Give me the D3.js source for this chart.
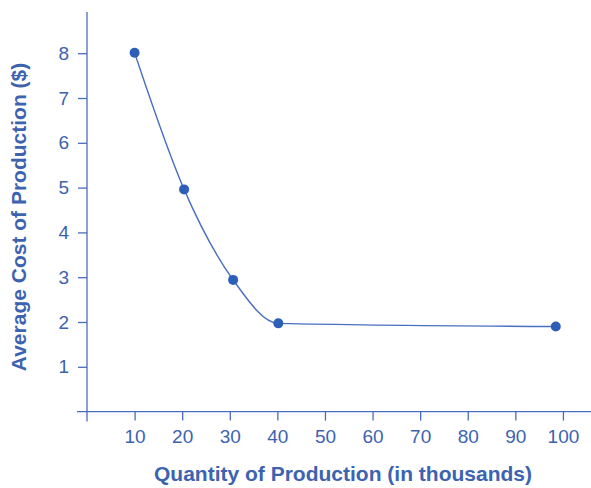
<!DOCTYPE html>
<html><head><meta charset="utf-8">
<script src="https://cdn.jsdelivr.net/npm/d3@7"></script>
<style>
html,body{margin:0;padding:0;background:#fff;}
svg{display:block;font-family:"Liberation Sans",Arial,sans-serif;}
</style></head>
<body><svg id="c" width="591" height="488"></svg>
<script>
const quantity = [10, 20.4, 30.7, 40.2, 98.5];
const cost = [8.01, 4.96, 2.94, 1.97, 1.90];
const xTicks = [10, 20, 30, 40, 50, 60, 70, 80, 90, 100];
const yTicks = [1, 2, 3, 4, 5, 6, 7, 8];
const xTitle = "Quantity of Production (in thousands)";
const yTitle = "Average Cost of Production ($)";

const axisColor = "#4a6cbc", textColor = "#3d63b0", dotColor = "#2d5fb8", lineColor = "#4a6fc0";
const svg = d3.select("#c");
const x = d3.scaleLinear().domain([0, 105.9]).range([87, 591]);
const y = d3.scaleLinear().domain([0, 8.92]).range([411.6, 12]);

// axes
const xa = svg.append("g").attr("transform", `translate(0,${y(0)})`)
  .call(d3.axisBottom(x).tickValues(xTicks).tickSize(9).tickPadding(9));
const ya = svg.append("g").attr("transform", `translate(${x(0)},0)`)
  .call(d3.axisLeft(y).tickValues(yTicks).tickSize(9).tickPadding(9));
[xa, ya].forEach(a => {
  a.select(".domain").remove();
  a.selectAll(".tick line").attr("stroke", axisColor).attr("stroke-width", 1.3);
  a.selectAll(".tick text").attr("fill", textColor).attr("font-size", 19)
    .attr("font-family", '"Liberation Sans",Arial,sans-serif');
});
svg.append("line").attr("x1", x(0) - 10).attr("x2", x(105.9)).attr("y1", y(0)).attr("y2", y(0))
  .attr("stroke", axisColor).attr("stroke-width", 1.3);
svg.append("line").attr("x1", x(0)).attr("x2", x(0)).attr("y1", y(0) + 10).attr("y2", y(8.92))
  .attr("stroke", axisColor).attr("stroke-width", 1.3);

// curve
const pts = quantity.map((q, i) => [q, cost[i]]);
svg.append("path").attr("d", d3.line().x(d => x(d[0])).y(d => y(d[1])).curve(d3.curveMonotoneX)(pts))
  .attr("fill", "none").attr("stroke", lineColor).attr("stroke-width", 1.4);
svg.selectAll("circle.pt").data(pts).join("circle").attr("class", "pt")
  .attr("cx", d => x(d[0])).attr("cy", d => y(d[1])).attr("r", 5).attr("fill", dotColor);

// titles
svg.append("text").attr("x", 343).attr("y", 481).attr("text-anchor", "middle")
  .attr("font-weight", "bold").attr("font-size", 21).attr("fill", textColor).text(xTitle);
svg.append("text").attr("transform", "translate(26,217) rotate(-90)").attr("text-anchor", "middle")
  .attr("font-weight", "bold").attr("font-size", 21).attr("fill", textColor).text(yTitle);
</script></body></html>
